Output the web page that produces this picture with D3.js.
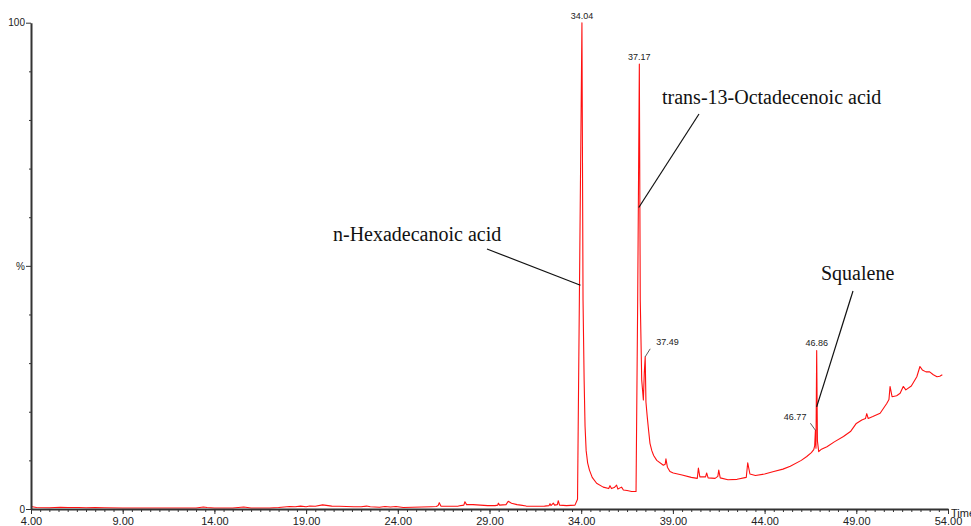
<!DOCTYPE html>
<html>
<head>
<meta charset="utf-8">
<script src="https://cdn.jsdelivr.net/npm/d3@7"></script>
<style>
  body { margin: 0; background: #fff; }
  svg { display: block; }
  .axis path, .axis line { stroke: #333; }
  .axis text { font-family: "Liberation Sans", Arial, sans-serif; fill: #222; }
</style>
</head>
<body>
<div id="chart"></div>
<script>
// retention time (min) and relative intensity (%)
let times = [4.0, 4.3, 5.0, 5.6, 6.0, 6.6, 7.0, 7.5, 8.0, 9.0, 10.0, 11.0, 12.0, 13.0, 13.4, 13.6, 14.0, 15.0, 15.6, 15.8,
  16.0, 17.0, 17.5, 18.1, 18.4, 18.7, 19.0, 19.2, 19.5, 19.9, 20.1, 20.4, 20.8, 21.2, 21.6, 22.0, 22.3, 22.5, 23.0, 23.3,
  23.6, 23.9, 24.3, 24.8, 25.3, 25.8, 26.1, 26.2, 26.26, 26.35, 26.8, 27.3, 27.6, 27.66, 27.75, 28.1, 28.5, 28.9, 29.3, 29.45,
  29.48, 29.55, 29.9, 30.02, 30.2, 30.5, 30.7, 31.0, 31.6, 32.0, 32.25, 32.3, 32.35, 32.48, 32.55, 32.7, 32.75, 32.82, 33.2, 33.66,
  33.8, 33.9, 34.04, 34.1, 34.16, 34.21, 34.27, 34.35, 34.45, 34.6, 34.84, 35.2, 35.5, 35.57, 35.65, 35.8, 35.93, 36.0, 36.2, 36.3,
  36.5, 36.75, 36.99,
  37.08, 37.17, 37.22, 37.3, 37.39, 37.44, 37.49, 37.53, 37.6, 37.68, 37.75, 37.85, 37.95, 38.12, 38.48, 38.58, 38.62, 38.7, 38.84, 39.02, 39.5, 40.0,
  40.33, 40.39, 40.47, 40.78, 40.84, 40.92, 41.3, 41.45, 41.5, 41.58, 42.0, 42.5, 43.0, 43.08, 43.2, 43.5, 44.0, 44.5, 45.0, 45.4,
  46.0, 46.3, 46.55, 46.68, 46.73, 46.77, 46.8, 46.84, 46.88, 46.95, 47.1, 47.4, 47.8, 48.3, 48.7, 49.0, 49.3, 49.5, 49.57, 49.65,
  49.9, 50.3, 50.66, 50.78, 50.84, 50.95, 51.2, 51.39, 51.56, 51.7, 52.0, 52.3, 52.47, 52.6, 52.8, 53.0, 53.2, 53.4, 53.55, 53.69];
let intensity = [0.5, 0.3, 0.25, 0.35, 0.3, 0.3, 0.25, 0.3, 0.25, 0.2, 0.2, 0.2, 0.2, 0.2, 0.4, 0.3, 0.2, 0.2, 0.4, 0.3,
  0.2, 0.2, 0.3, 0.5, 0.45, 0.6, 0.45, 0.6, 0.55, 0.85, 0.75, 0.6, 0.55, 0.5, 0.45, 0.45, 0.6, 0.45, 0.35, 0.5,
  0.4, 0.5, 0.3, 0.35, 0.4, 0.45, 0.5, 0.7, 1.3, 0.6, 0.55, 0.6, 0.8, 1.5, 0.9, 0.9, 0.8, 0.7, 0.7, 0.8,
  1.2, 0.8, 0.9, 1.6, 1.2, 0.9, 0.8, 0.6, 0.55, 0.6, 0.7, 1.1, 0.7, 1.2, 0.8, 0.9, 1.7, 0.8, 0.7, 0.8,
  2.0, 43, 100, 43, 26.5, 17, 12, 9.5, 8, 6.5, 5.3, 4.5, 4.2, 4.8, 4.2, 4.4, 4.9, 4.1, 4.5, 3.9,
  3.8, 3.6, 3.6,
  43, 91.5, 43, 26.5, 22.4, 28, 31.3, 22, 19, 16, 13.5, 12, 11, 10, 9, 9.2, 10.3, 8.6, 7.7, 7.4, 7.0, 6.5,
  6.3, 8.4, 6.6, 6.6, 7.4, 6.4, 6.3, 6.7, 8.0, 6.4, 6.0, 6.1, 6.5, 9.5, 7.2, 6.9, 7.2, 7.7, 8.2, 8.8,
  10.0, 10.8, 11.6, 12.2, 13.0, 16.2, 12.5, 32.6, 14, 11.8, 12.3, 12.8, 13.8, 14.9, 16.0, 17.6, 18.3, 18.6, 19.6, 18.6,
  19.0, 19.7, 21.7, 22.5, 25.2, 23.1, 23.3, 23.8, 25.2, 24.5, 25.3, 27.2, 29.3, 28.6, 28.2, 28.2, 27.6, 27.2, 27.3, 27.6];

let majorTicks = [4, 9, 14, 19, 24, 29, 34, 39, 44, 49, 54];
let yTicks = [0, 10, 20, 30, 40, 50, 60, 70, 80, 90, 100];
let yLabels = { 0: "0", 50: "%", 100: "100" };

// peak retention-time labels
let peakNames = ["34.04", "37.17", "37.49", "46.86", "46.77"];
let peakTimes = [34.04, 37.17, 37.49, 46.84, 46.77];
let peakValues = [100, 91.5, 31.3, 32.6, 16.2];

// compound annotations
let compounds = ["n-Hexadecanoic acid", "trans-13-Octadecenoic acid", "Squalene"];
let compoundTimes = [33.96, 37.14, 46.84];
let compoundValues = [46, 62, 21];

let width = 971, height = 526;

let x = d3.scaleLinear().domain([4, 54]).range([31, 948]);
let y = d3.scaleLinear().domain([0, 100]).range([509, 22.7]);

let svg = d3.select("#chart").append("svg")
  .attr("width", width)
  .attr("height", height);

let data = times.map(function (t, i) { return [t, intensity[i]]; });

let line = d3.line()
  .x(function (d) { return x(d[0]); })
  .y(function (d) { return y(d[1]); });

svg.append("path")
  .datum(data)
  .attr("fill", "none")
  .attr("stroke", "#ff1010")
  .attr("stroke-width", 1.1)
  .attr("stroke-linejoin", "round")
  .attr("d", line);

// x axis: minor ticks every 0.5 min, major every 5 min
svg.append("g")
  .attr("class", "axis")
  .attr("transform", "translate(0," + y(0) + ")")
  .call(d3.axisBottom(x).tickValues(d3.range(4, 54.01, 0.5)).tickSize(3).tickSizeOuter(0).tickFormat(""))
  .call(function (g) { g.select(".domain").attr("stroke-width", 2); });

svg.append("g")
  .attr("class", "axis")
  .attr("transform", "translate(0," + y(0) + ")")
  .call(d3.axisBottom(x).tickValues(majorTicks).tickSize(5).tickSizeOuter(0).tickPadding(3).tickFormat(d3.format(".2f")))
  .call(function (g) {
    g.select(".domain").remove();
    g.selectAll("text").attr("font-size", 11);
  });

// y axis
svg.append("g")
  .attr("class", "axis")
  .attr("transform", "translate(" + x(4) + ",0)")
  .call(d3.axisLeft(y).tickValues(yTicks).tickSizeOuter(0).tickPadding(2)
    .tickFormat(function (d) { return yLabels[d] || ""; }))
  .call(function (g) {
    g.select(".domain").attr("stroke-width", 2);
    g.selectAll(".tick line").attr("x2", function (d) { return yLabels[d] ? -5 : -2; });
    g.selectAll("text").attr("font-size", 10).attr("x", -6);
  });

svg.append("text")
  .attr("x", 951)
  .attr("y", 517)
  .attr("font-family", "Liberation Sans, Arial, sans-serif")
  .attr("font-size", 11)
  .attr("fill", "#222")
  .text("Time");

// peak labels
let labelDx = [0, 0, 11, 0, -9];
let labelDy = [-4, -4, -12, -4, -10];
peakNames.forEach(function (name, i) {
  let px = x(peakTimes[i]), py = y(peakValues[i]);
  let anchor = i == 2 ? "start" : (i == 4 ? "end" : "middle");
  if (i == 2) {
    svg.append("line").attr("x1", px).attr("y1", py).attr("x2", px + 5).attr("y2", py - 8)
      .attr("stroke", "#333").attr("stroke-width", 0.8);
  }
  if (i == 4) {
    svg.append("line").attr("x1", px).attr("y1", py).attr("x2", px - 5).attr("y2", py - 7)
      .attr("stroke", "#333").attr("stroke-width", 0.8);
  }
  svg.append("text")
    .attr("x", px + labelDx[i])
    .attr("y", py + labelDy[i])
    .attr("text-anchor", anchor)
    .attr("font-family", "Liberation Sans, Arial, sans-serif")
    .attr("font-size", 9)
    .attr("fill", "#222")
    .text(name);
});

// compound annotations with leader lines
let textPos = [[333, 241], [662, 103.5], [821, 279.5]];
let lineStart = [[487, 249], [699, 114], [853, 291]];
compounds.forEach(function (name, i) {
  svg.append("line")
    .attr("x1", lineStart[i][0]).attr("y1", lineStart[i][1])
    .attr("x2", x(compoundTimes[i])).attr("y2", y(compoundValues[i]))
    .attr("stroke", "#111").attr("stroke-width", 1.2);
  svg.append("text")
    .attr("x", textPos[i][0])
    .attr("y", textPos[i][1])
    .attr("font-family", "Liberation Serif, Times New Roman, serif")
    .attr("font-size", 20)
    .attr("fill", "#111")
    .text(name);
});
</script>
</body>
</html>
